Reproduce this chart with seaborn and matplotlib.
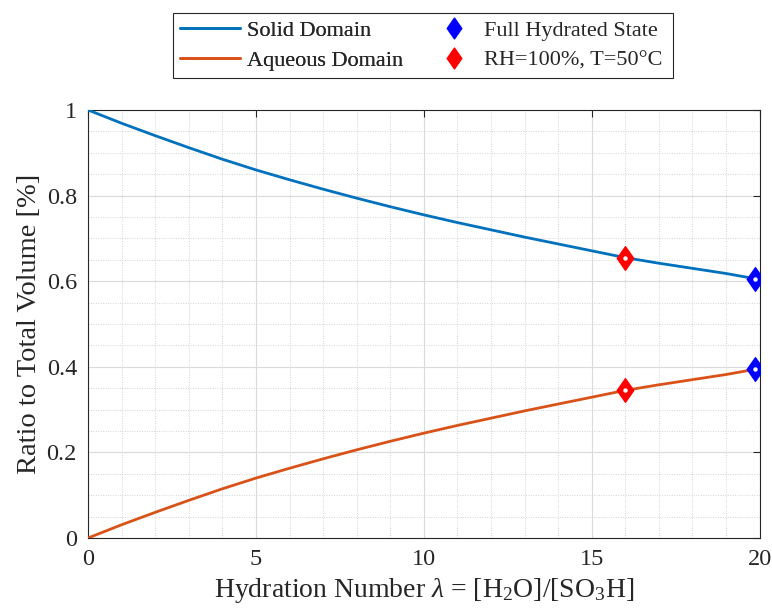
import numpy as np
import pandas as pd
import matplotlib
matplotlib.use("Agg")
import matplotlib.pyplot as plt
import seaborn as sns
from matplotlib.lines import Line2D
from matplotlib.legend_handler import HandlerTuple
from matplotlib.ticker import MultipleLocator
from matplotlib.path import Path
from matplotlib.patches import Rectangle

# ---- data ----
lam = [0, 1, 2, 3, 4, 5, 6, 7, 8, 9, 10, 11, 12, 13, 14, 15, 16, 17, 18, 19, 19.85]
aqueous = [0.0, 0.031, 0.060, 0.088, 0.115, 0.140, 0.163, 0.185, 0.206, 0.226,
           0.245, 0.263, 0.280, 0.297, 0.313, 0.329, 0.345, 0.358, 0.370, 0.382, 0.394]
solid = [1.0, 0.969, 0.940, 0.912, 0.885, 0.860, 0.837, 0.815, 0.794, 0.774,
         0.755, 0.737, 0.720, 0.703, 0.687, 0.671, 0.655, 0.642, 0.630, 0.618, 0.606]
full_lam = [19.85, 19.85]
full_val = [0.606, 0.394]
rh_lam = [16.0, 16.0]
rh_val = [0.655, 0.345]

series_names = ["Solid Domain", "Aqueous Domain"]
point_names = ["Full Hydrated State", "RH=100%, T=50\u00b0C"]
xticks = [0, 5, 10, 15, 20]
yticks = [0, 0.2, 0.4, 0.6, 0.8, 1]
ytick_labels = ["0", "0.2", "0.4", "0.6", "0.8", "1"]

sns.set_style("white")
plt.rcParams["font.family"] = ["Liberation Serif", "DejaVu Serif"]
plt.rcParams["mathtext.fontset"] = "custom"
plt.rcParams["mathtext.rm"] = "Liberation Serif"
plt.rcParams["mathtext.it"] = "Liberation Serif:italic"

BLUE = "#0072BD"
ORANGE = "#D95319"
TXT = "#262626"

# diamond marker, a bit narrower than tall
diamond = Path([(0, 1), (0.7, 0), (0, -1), (-0.7, 0), (0, 1)],
               [Path.MOVETO, Path.LINETO, Path.LINETO, Path.LINETO, Path.CLOSEPOLY])

fig = plt.figure(figsize=(7.72, 6.13), dpi=100)
ax = fig.add_axes([0.114, 0.1223, 0.870, 0.6983])

df = pd.DataFrame({"lam": lam * 2,
                   "val": solid + aqueous,
                   "series": [series_names[0]] * len(lam) + [series_names[1]] * len(lam)})
sns.lineplot(data=df, x="lam", y="val", hue="series", palette=[BLUE, ORANGE],
             linewidth=2.0, ax=ax, legend=False, zorder=3)

ms = 17
for xs, ys, col in [(full_lam, full_val, "#0000FF"), (rh_lam, rh_val, "#FF0000")]:
    ax.plot(xs, ys, linestyle="none", marker=diamond, markersize=ms,
            color=col, markeredgecolor=col, zorder=4)
    ax.plot(xs, ys, linestyle="none", marker="o", markersize=2.2,
            color="white", markeredgecolor="white", zorder=5)

ax.set_xlim(0, 20)
ax.set_ylim(0, 1)
ax.set_xticks(xticks)
ax.set_yticks(yticks)
ax.set_xticklabels([str(t) for t in xticks])
ax.set_yticklabels(ytick_labels)
ax.xaxis.set_minor_locator(MultipleLocator(1))
ax.yaxis.set_minor_locator(MultipleLocator(0.05))
ax.grid(which="major", color="#dadada", linewidth=0.8, linestyle="-", zorder=0)
ax.grid(which="minor", color="#d3d3d3", linewidth=0.7, linestyle=(0, (1, 1.5)), zorder=0)
ax.set_axisbelow(True)
ax.tick_params(which="major", direction="in", length=5, width=0.8, labelsize=17.5,
               top=True, right=True, colors=TXT, pad=8)
ax.tick_params(which="minor", length=0)
for sp in ax.spines.values():
    sp.set_color(TXT)
    sp.set_linewidth(0.8)

ax.set_xlabel(r"Hydration Number $\lambda$ = [H$_2$O]/[SO$_3$H]", fontsize=20, color=TXT, labelpad=4)
ax.set_ylabel("Ratio to Total Volume [%]", fontsize=20.5, color=TXT, labelpad=3)

# ---- legend: two frameless columns inside one box ----
FS = 16
h1 = Line2D([], [], color=BLUE, linewidth=2.0)
h2 = Line2D([], [], color=ORANGE, linewidth=2.0)
d1 = (Line2D([], [], linestyle="none", marker=diamond, markersize=15, color="#0000FF"),
      Line2D([], [], linestyle="none", marker="o", markersize=2.2, color="white"))
d2 = (Line2D([], [], linestyle="none", marker=diamond, markersize=15, color="#FF0000"),
      Line2D([], [], linestyle="none", marker="o", markersize=2.2, color="white"))
yc = 1 - 45.5 / 613
common = dict(loc="center left", fontsize=FS, frameon=False, borderpad=0,
              borderaxespad=0, labelspacing=0.42, labelcolor=TXT)
legA = fig.legend([h1, h2], series_names, bbox_to_anchor=(180 / 772, yc),
                  handlelength=2.72, handletextpad=0.3, **common)
legB = fig.legend([d1, d2], point_names, bbox_to_anchor=(448 / 772, yc),
                  handlelength=1.0, handletextpad=0.63,
                  handler_map={tuple: HandlerTuple(ndivide=None, pad=0)}, **common)
fig.add_artist(legA)
fig.patches.append(Rectangle((173 / 772, 1 - 78 / 613), 500 / 772, 65 / 613,
                             transform=fig.transFigure, facecolor="white",
                             edgecolor=TXT, linewidth=0.8, zorder=0))

fig.savefig("out.png", dpi=100)
